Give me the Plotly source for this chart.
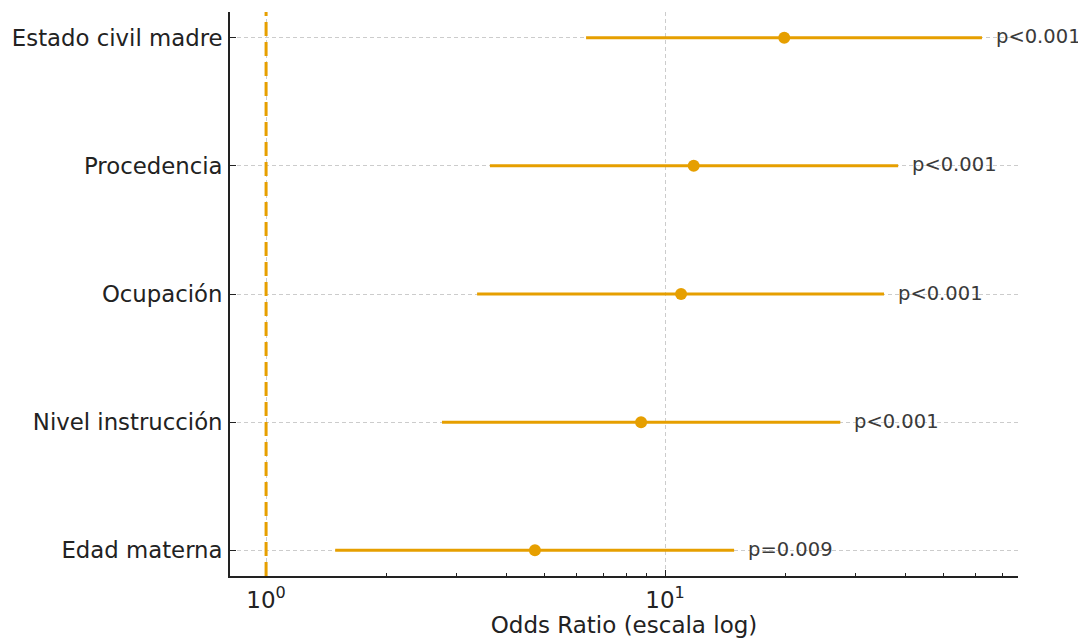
import numpy as np
import plotly.graph_objects as go

variables = ["Edad materna", "Nivel instrucción", "Ocupación", "Procedencia", "Estado civil madre"]
odds_ratio = [4.72, 8.71, 10.97, 11.8, 19.9]
ci_low = [1.49, 2.76, 3.38, 3.64, 6.34]
ci_high = [14.9, 27.5, 35.4, 38.4, 62.3]
p_labels = ["p=0.009", "p<0.001", "p<0.001", "p<0.001", "p<0.001"]

ORANGE = "#E69F00"
FONT = "DejaVu Sans"

seg_x, seg_y = [], []
for v, lo, hi in zip(variables, ci_low, ci_high):
    seg_x += [lo, hi, None]
    seg_y += [v, v, None]

fig = go.Figure()
fig.add_trace(go.Scatter(x=seg_x, y=seg_y, mode="lines",
                         line=dict(color=ORANGE, width=3), showlegend=False, hoverinfo="skip"))
fig.add_trace(go.Scatter(x=odds_ratio, y=variables, mode="markers",
                         marker=dict(color=ORANGE, size=12), showlegend=False))

fig.add_shape(type="line", x0=1, x1=1, xref="x", y0=0, y1=1, yref="paper",
              line=dict(color=ORANGE, width=3, dash="14px,6px"))

for v, hi, p in zip(variables, ci_high, p_labels):
    fig.add_annotation(x=np.log10(hi), y=v, text=p, showarrow=False, xanchor="left",
                       xshift=12, yshift=1, font=dict(family=FONT, size=19.5, color="#3a3a3a"))

minor_vals = [2, 3, 4, 5, 6, 7, 8, 9, 20, 30, 40, 50, 60, 70]

fig.update_xaxes(type="log", range=[np.log10(0.812), np.log10(76.7)], automargin=False,
                 tickmode="array", tickvals=[1, 10], ticktext=["10<sup>0</sup>", "10<sup>1</sup>"],
                 ticks="inside", ticklen=6, tickwidth=1.3, tickcolor="#222",
                 minor=dict(tickmode="array", tickvals=minor_vals, ticks="inside", ticklen=3.5,
                            tickwidth=1, tickcolor="#222", showgrid=False),
                 showline=True, linecolor="#222", linewidth=1.8, mirror=False,
                 showgrid=True, gridcolor="#cccccc", gridwidth=1, griddash="4px,3px",
                 zeroline=False, ticklabelstandoff=2,
                 tickfont=dict(family=FONT, size=23, color="#222"),
                 title=dict(text="Odds Ratio (escala log)", standoff=3,
                            font=dict(family=FONT, size=23, color="#222")))
fig.update_yaxes(type="category", categoryorder="array", categoryarray=variables,
                 range=[-0.2, 4.2], automargin=False,
                 ticks="inside", ticklen=6, tickwidth=1.3, tickcolor="#222",
                 showline=True, linecolor="#222", linewidth=1.8,
                 showgrid=True, gridcolor="#cccccc", gridwidth=1, griddash="4px,3px",
                 zeroline=False, ticklabelstandoff=1,
                 tickfont=dict(family=FONT, size=22.8, color="#222"))

fig.update_layout(width=1078, height=630, margin=dict(l=222, r=68, t=4, b=62),
                  plot_bgcolor="white", paper_bgcolor="white", font=dict(family=FONT))

fig.write_html("out.html")
